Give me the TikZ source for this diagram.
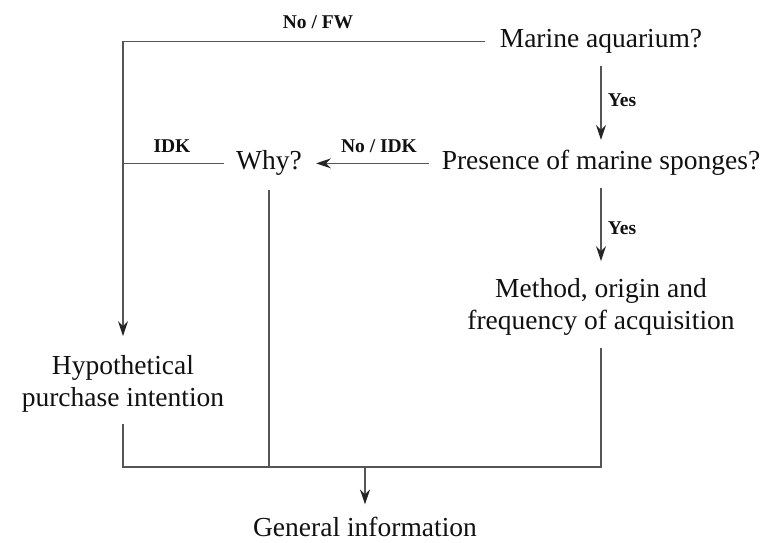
\documentclass[tikz,border=0pt]{standalone}
\usepackage{fontspec}
\setmainfont{Liberation Serif}
\usetikzlibrary{arrows.meta}
\definecolor{linegray}{HTML}{555555}
\definecolor{textgray}{HTML}{111111}
\tikzset{
  txt/.style={inner sep=0pt, text=textgray, font=\fontsize{27.5}{32.5}\selectfont},
  one/.style={txt, text height=18.7pt, text depth=6pt},
  lbl/.style={inner sep=0pt, text=textgray, font=\fontsize{19.5}{22}\selectfont\bfseries},
  conn/.style={draw=linegray, line width=1.3pt},
  arr/.style={conn, -{Stealth[length=15pt,width=10pt,inset=5pt,color=black!85]}}
}
\begin{document}
\begin{tikzpicture}[x=1pt,y=-1pt]
\useasboundingbox[fill=white] (0,0) rectangle (766,542);
% nodes (centres placed so that baselines match the reference)
\node[one] (ma)  at (601,41.4)  {Marine aquarium?};
\node[one] (pms) at (601,163.4) {Presence of marine sponges?};
\node[one] (why) at (269,163.4) {Why?};
\node[txt,align=center] (moa) at (601,307) {Method, origin and\\frequency of acquisition};
\node[txt,align=center] (hyp) at (123,384) {Hypothetical\\purchase intention};
\node[txt, text height=18.7pt, text depth=0pt] (gi) at (365,527) {General information};
% connectors
\coordinate (bus) at (0,467);
\draw[arr] ([xshift=-15pt]ma.west) -| ([yshift=19pt]hyp.north);
\draw[arr] ([yshift=-12pt]ma.south) -- ([yshift=11pt]pms.north);
\draw[arr] ([yshift=-12pt]pms.south) -- ([yshift=17pt]moa.north);
\draw[arr] ([xshift=-13pt]pms.west) -- ([xshift=14pt]why.east);
\draw[conn] ([xshift=-12pt]why.west) -- (why.west -| hyp.north);
\draw[conn] ([yshift=-11pt]hyp.south) |- (moa.south |- bus) -- ([yshift=-12pt]moa.south);
\draw[conn] ([yshift=-14pt]why.south) -- (why.south |- bus);
\draw[arr] (gi.north |- bus) -- ([yshift=13pt]gi.north);
% labels
\node[lbl] (lfw)  at (318,22)  {No / FW};
\node[lbl] (lyes1) at (622,100) {Yes};
\node[lbl] (lnoidk) at (379,146) {No / IDK};
\node[lbl] (lidk) at (172,146) {IDK};
\node[lbl] (lyes2) at (622,228) {Yes};
\end{tikzpicture}
\end{document}
